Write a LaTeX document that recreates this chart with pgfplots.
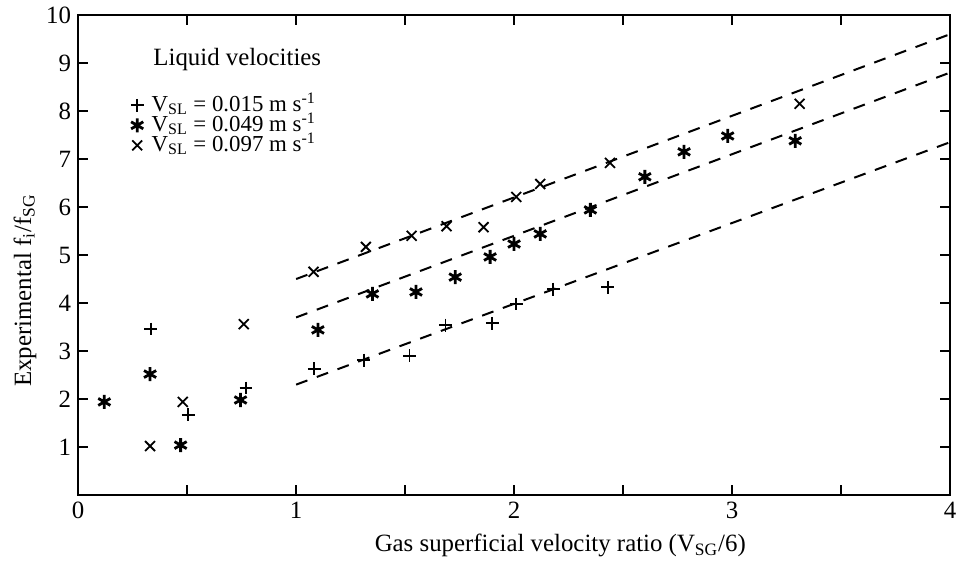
\documentclass[border=0pt]{standalone}
\usepackage{fontspec}
\setmainfont{Liberation Serif}
\usepackage{pgfplots}
\pgfplotsset{compat=1.18}
\begin{document}
\begin{tikzpicture}[font=\fontsize{12.4}{14}\selectfont]
\begin{axis}[
  scale only axis, width=435pt, height=239.5pt,
  xmin=0, xmax=4, ymin=0, ymax=10,
  xtick={0,1,2,3,4}, minor xtick={0.5,1.5,2.5,3.5},
  ytick={1,2,3,4,5,6,7,8,9,10},
  tick align=inside, major tick length=5pt, minor tick length=5pt,
  every tick/.style={black, line width=1pt},
  axis line style={line width=1pt},
  /pgf/number format/assume math mode=true,
  xlabel={Gas superficial velocity ratio (V\textsubscript{SG}/6)},
  ylabel={Experimental f\textsubscript{i}/f\textsubscript{SG}},
  xlabel style={at={(axis description cs:0.553,0)}, anchor=north, yshift=-16pt},
  ylabel style={at={(axis description cs:-0.061,0.426)}, anchor=center},
  legend style={draw=none, fill=none, at={(0.053,0.842)}, anchor=north west,
    font=\fontsize{11.4}{13}\selectfont,
    row sep=0pt, nodes={inner ysep=0.5pt, inner xsep=4pt, anchor=west, text height=7.5pt, text depth=1.5pt}},
  legend cell align=left,
  legend image code/.code={\draw[#1] plot coordinates {(0.12cm,0cm)};},
]
\addplot[only marks, mark=+, mark size=3.2pt, line width=0.9pt] coordinates {
(0.333,3.46) (0.505,1.67) (0.77,2.23) (1.083,2.63) (1.31,2.81) (1.52,2.90)
(1.685,3.54) (1.90,3.58) (2.01,3.98) (2.18,4.29) (2.43,4.33)};
\addlegendentry{V\textsubscript{SL} = 0.015 m s\textsuperscript{-1}}
\addplot[only marks, mark=asterisk, mark size=3.5pt, line width=1.4pt] coordinates {
(0.12,1.94) (0.33,2.52) (0.47,1.04) (0.745,1.98) (1.10,3.44) (1.35,4.19)
(1.55,4.23) (1.73,4.54) (1.89,4.96) (2.00,5.23) (2.12,5.44) (2.35,5.94)
(2.60,6.63) (2.78,7.15) (2.98,7.48) (3.29,7.38)};
\addlegendentry{V\textsubscript{SL} = 0.049 m s\textsuperscript{-1}}
\addplot[only marks, mark=x, mark size=3.5pt, line width=0.9pt] coordinates {
(0.33,1.02) (0.48,1.94) (0.76,3.56) (1.08,4.65) (1.32,5.17) (1.53,5.40)
(1.69,5.60) (1.86,5.58) (2.01,6.21) (2.12,6.48) (2.44,6.92) (3.31,8.15)};
\addlegendentry{V\textsubscript{SL} = 0.097 m s\textsuperscript{-1}}
\addplot[forget plot, line width=1pt, dash pattern=on 6pt off 5pt] coordinates {(1,2.3) (4,7.35)};
\addplot[forget plot, line width=1pt, dash pattern=on 6pt off 5pt] coordinates {(1,3.7) (4,8.8)};
\addplot[forget plot, line width=1pt, dash pattern=on 6pt off 5pt] coordinates {(1,4.5) (4,9.6)};
\node at (axis cs:0.73,9.08) {Liquid velocities};
\end{axis}
\pgfresetboundingbox
\path[use as bounding box] ([shift={(-39pt,-36pt)}]current axis.south west) rectangle ([shift={(3pt,7.5pt)}]current axis.north east);
\end{tikzpicture}
\end{document}
